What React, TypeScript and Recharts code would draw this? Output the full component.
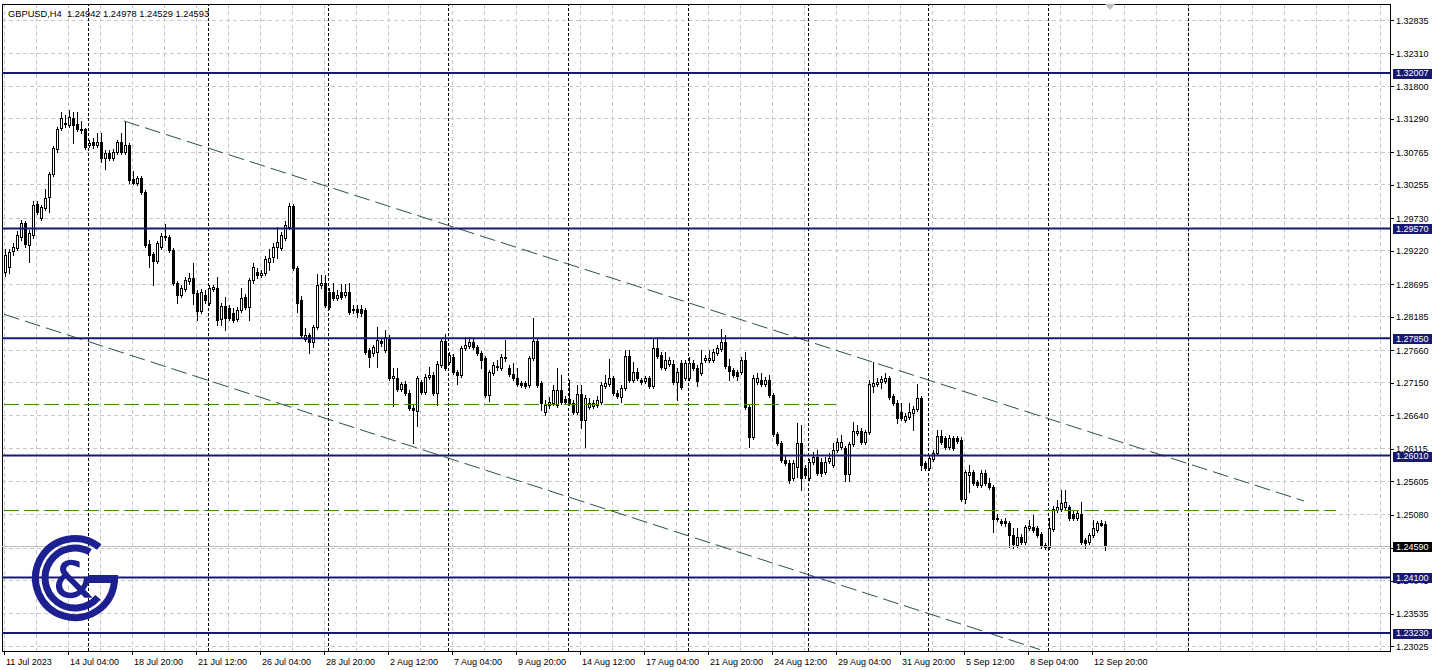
import React from 'react';
import { ComposedChart, Bar, XAxis, YAxis, CartesianGrid, ReferenceLine, ReferenceArea } from 'recharts';

const OPEN = [
  1.2889,1.2897,1.2922,1.2926,1.2944,1.2966,1.2931,1.2947,1.2995,1.2973,
  1.2989,1.3006,1.3042,1.3081,1.3115,1.3121,1.3119,1.3130,1.3121,1.3113,
  1.3113,1.3088,1.3093,1.3088,1.3093,1.3068,1.3075,1.3068,1.3077,1.3093,
  1.3077,1.3088,1.3034,1.3028,1.3036,1.3014,1.2933,1.2917,1.2906,1.2928,
  1.2944,1.2944,1.2923,1.2872,1.2853,1.2862,1.2875,1.2879,1.2856,1.2828,
  1.2853,1.2840,1.2862,1.2864,1.2815,1.2836,1.2832,1.2825,1.2815,1.2829,
  1.2850,1.2834,1.2876,1.2889,1.2884,1.2887,1.2904,1.2912,1.2928,1.2926,
  1.2942,1.2959,1.2992,1.2895,1.2845,1.2784,1.2790,1.2779,1.2803,1.2868,
  1.2872,1.2857,1.2857,1.2848,1.2857,1.2853,1.2857,1.2829,1.2831,1.2831,
  1.2829,1.2766,1.2762,1.2763,1.2781,1.2767,1.2785,1.2723,1.2723,1.2706,
  1.2713,1.2699,1.2676,1.2671,1.2716,1.2701,1.2724,1.2727,1.2699,1.2743,
  1.2781,1.2748,1.2756,1.2732,1.2727,1.2770,1.2773,1.2779,1.2771,1.2762,
  1.2754,1.2696,1.2730,1.2740,1.2738,1.2756,1.2738,1.2729,1.2723,1.2715,
  1.2715,1.2711,1.2754,1.2781,1.2715,1.2669,1.2680,1.2683,1.2680,1.2704,
  1.2690,1.2690,1.2683,1.2669,1.2698,1.2657,1.2677,1.2679,1.2680,1.2685,
  1.2710,1.2713,1.2723,1.2699,1.2693,1.2707,1.2757,1.2720,1.2732,1.2720,
  1.2718,1.2723,1.2710,1.2770,1.2759,1.2738,1.2745,1.2745,1.2716,1.2746,
  1.2723,1.2723,1.2746,1.2738,1.2730,1.2751,1.2751,1.2751,1.2762,1.2768,
  1.2779,1.2741,1.2735,1.2732,1.2732,1.2751,1.2677,1.2630,1.2716,1.2720,
  1.2713,1.2720,1.2696,1.2635,1.2621,1.2594,1.2589,1.2566,1.2583,1.2621,
  1.2582,1.2566,1.2591,1.2599,1.2591,1.2575,1.2593,1.2586,1.2610,1.2614,
  1.2613,1.2572,1.2619,1.2636,1.2640,1.2622,1.2638,1.2710,1.2713,1.2716,
  1.2718,1.2723,1.2694,1.2683,1.2669,1.2657,1.2662,1.2668,1.2674,1.2691,
  1.2589,1.2582,1.2596,1.2605,1.2632,1.2629,1.2615,1.2629,1.2629,1.2626,
  1.2533,1.2571,1.2575,1.2560,1.2555,1.2574,1.2558,1.2552,1.2503,1.2499,
  1.2499,1.2496,1.2477,1.2461,1.2474,1.2466,1.2488,1.2489,1.2488,1.2478,
  1.2461,1.2458,1.2486,1.2516,1.2517,1.2520,1.2520,1.2509,1.2503,1.2509,
  1.2469,1.2466,1.2477,1.2484,1.2496,1.24942,
];
const HIGH = [
  1.2925,1.2925,1.2934,1.2953,1.2970,1.2969,1.2955,1.3000,1.3000,1.2994,
  1.3019,1.3045,1.3086,1.3116,1.3140,1.3135,1.3143,1.3140,1.3140,1.3125,
  1.3115,1.3096,1.3099,1.3107,1.3107,1.3080,1.3080,1.3082,1.3096,1.3107,
  1.3126,1.3091,1.3047,1.3039,1.3039,1.3017,1.2939,1.2920,1.2937,1.2950,
  1.2964,1.2947,1.2926,1.2875,1.2868,1.2881,1.2887,1.2903,1.2861,1.2862,
  1.2861,1.2868,1.2868,1.2881,1.2840,1.2850,1.2837,1.2832,1.2834,1.2864,
  1.2854,1.2879,1.2903,1.2895,1.2892,1.2914,1.2925,1.2934,1.2959,1.2952,
  1.2969,1.2997,1.2995,1.2898,1.2851,1.2801,1.2793,1.2806,1.2886,1.2884,
  1.2884,1.2864,1.2872,1.2861,1.2870,1.2870,1.2872,1.2837,1.2837,1.2837,
  1.2832,1.2770,1.2774,1.2803,1.2785,1.2798,1.2790,1.2738,1.2738,1.2716,
  1.2718,1.2704,1.2682,1.2726,1.2720,1.2729,1.2740,1.2732,1.2749,1.2785,
  1.2792,1.2763,1.2760,1.2735,1.2773,1.2787,1.2787,1.2784,1.2774,1.2765,
  1.2757,1.2735,1.2748,1.2751,1.2760,1.2782,1.2743,1.2746,1.2738,1.2718,
  1.2718,1.2757,1.2817,1.2784,1.2718,1.2688,1.2693,1.2711,1.2738,1.2727,
  1.2695,1.2720,1.2688,1.2711,1.2711,1.2696,1.2691,1.2688,1.2695,1.2716,
  1.2727,1.2753,1.2726,1.2704,1.2711,1.2767,1.2767,1.2748,1.2738,1.2723,
  1.2726,1.2726,1.2784,1.2787,1.2763,1.2763,1.2756,1.2751,1.2738,1.2751,
  1.2751,1.2756,1.2751,1.2743,1.2767,1.2759,1.2767,1.2768,1.2774,1.2800,
  1.2790,1.2753,1.2738,1.2735,1.2756,1.2763,1.2680,1.2727,1.2730,1.2730,
  1.2724,1.2727,1.2699,1.2638,1.2624,1.2600,1.2594,1.2594,1.2652,1.2649,
  1.2587,1.2596,1.2607,1.2610,1.2597,1.2599,1.2605,1.2621,1.2629,1.2633,
  1.2616,1.2622,1.2654,1.2649,1.2644,1.2641,1.2720,1.2748,1.2723,1.2726,
  1.2730,1.2726,1.2698,1.2688,1.2683,1.2668,1.2683,1.2679,1.2713,1.2694,
  1.2593,1.2600,1.2610,1.2641,1.2641,1.2632,1.2633,1.2632,1.2632,1.2630,
  1.2578,1.2586,1.2578,1.2563,1.2578,1.2578,1.2566,1.2555,1.2509,1.2502,
  1.2503,1.2499,1.2488,1.2488,1.2478,1.2492,1.2500,1.2508,1.2491,1.2481,
  1.2464,1.2503,1.2522,1.2531,1.2547,1.2547,1.2524,1.2516,1.2516,1.2528,
  1.2472,1.2480,1.2500,1.2499,1.2500,1.24978,
];
const LOW = [
  1.2883,1.2887,1.2915,1.2923,1.2939,1.2928,1.2904,1.2942,1.2980,1.2970,
  1.2986,1.2983,1.3039,1.3077,1.3111,1.3116,1.3116,1.3091,1.3110,1.3107,
  1.3082,1.3085,1.3083,1.3085,1.3061,1.3050,1.3064,1.3064,1.3074,1.3074,
  1.3074,1.3028,1.3027,1.3025,1.3011,1.2928,1.2897,1.2868,1.2903,1.2925,
  1.2939,1.2920,1.2868,1.2840,1.2850,1.2859,1.2870,1.2839,1.2814,1.2825,
  1.2840,1.2837,1.2859,1.2806,1.2806,1.2798,1.2814,1.2811,1.2812,1.2826,
  1.2831,1.2814,1.2872,1.2879,1.2881,1.2884,1.2892,1.2904,1.2911,1.2923,
  1.2939,1.2956,1.2892,1.2826,1.2785,1.2781,1.2762,1.2771,1.2800,1.2864,
  1.2834,1.2831,1.2845,1.2845,1.2847,1.2850,1.2823,1.2825,1.2818,1.2820,
  1.2760,1.2740,1.2757,1.2740,1.2773,1.2763,1.2720,1.2679,1.2703,1.2703,
  1.2696,1.2672,1.2621,1.2648,1.2698,1.2698,1.2721,1.2696,1.2680,1.2740,
  1.2735,1.2745,1.2729,1.2714,1.2724,1.2767,1.2770,1.2768,1.2759,1.2738,
  1.2693,1.2687,1.2727,1.2735,1.2735,1.2749,1.2726,1.2720,1.2710,1.2709,
  1.2707,1.2709,1.2751,1.2709,1.2672,1.2665,1.2676,1.2680,1.2677,1.2682,
  1.2682,1.2680,1.2666,1.2666,1.2644,1.2615,1.2674,1.2676,1.2677,1.2682,
  1.2707,1.2710,1.2696,1.2691,1.2685,1.2704,1.2716,1.2716,1.2720,1.2713,
  1.2715,1.2707,1.2707,1.2754,1.2737,1.2735,1.2742,1.2713,1.2688,1.2706,
  1.2720,1.2720,1.2735,1.2710,1.2727,1.2748,1.2748,1.2748,1.2759,1.2765,
  1.2738,1.2720,1.2724,1.2720,1.2729,1.2674,1.2615,1.2627,1.2713,1.2710,
  1.2710,1.2693,1.2632,1.2618,1.2591,1.2586,1.2558,1.2563,1.2567,1.2547,
  1.2566,1.2563,1.2588,1.2571,1.2569,1.2572,1.2590,1.2583,1.2607,1.2611,
  1.2561,1.2561,1.2616,1.2633,1.2619,1.2619,1.2635,1.2701,1.2710,1.2707,
  1.2715,1.2690,1.2680,1.2652,1.2657,1.2654,1.2658,1.2641,1.2671,1.2578,
  1.2578,1.2578,1.2593,1.2602,1.2619,1.2611,1.2611,1.2610,1.2621,1.2530,
  1.2527,1.2544,1.2555,1.2552,1.2552,1.2555,1.2549,1.2481,1.2499,1.2493,
  1.2491,1.2458,1.2456,1.2458,1.2463,1.2463,1.2484,1.2481,1.2474,1.2456,
  1.2455,1.2455,1.2483,1.2513,1.2514,1.2517,1.2500,1.2500,1.2500,1.2463,
  1.2456,1.2463,1.2474,1.2481,1.2490,1.24529,
];
const CLOSE = [
  1.2915,1.2920,1.2928,1.2947,1.2966,1.2933,1.2950,1.2994,1.2983,1.2991,
  1.3005,1.3042,1.3083,1.3113,1.3130,1.3123,1.3132,1.3119,1.3113,1.3111,
  1.3085,1.3091,1.3088,1.3093,1.3068,1.3075,1.3068,1.3077,1.3093,1.3077,
  1.3088,1.3033,1.3028,1.3036,1.3014,1.2931,1.2915,1.2906,1.2934,1.2945,
  1.2945,1.2923,1.2872,1.2853,1.2864,1.2876,1.2879,1.2856,1.2828,1.2857,
  1.2845,1.2864,1.2865,1.2814,1.2836,1.2817,1.2817,1.2814,1.2829,1.2848,
  1.2834,1.2876,1.2897,1.2884,1.2887,1.2909,1.2911,1.2928,1.2936,1.2947,
  1.2962,1.2992,1.2895,1.2840,1.2790,1.2790,1.2779,1.2803,1.2868,1.2872,
  1.2837,1.2834,1.2848,1.2853,1.2850,1.2857,1.2826,1.2831,1.2826,1.2825,
  1.2763,1.2755,1.2771,1.2782,1.2778,1.2787,1.2723,1.2726,1.2706,1.2713,
  1.2699,1.2676,1.2672,1.2723,1.2701,1.2724,1.2727,1.2699,1.2745,1.2781,
  1.2738,1.2759,1.2732,1.2727,1.2770,1.2774,1.2779,1.2771,1.2762,1.2751,
  1.2696,1.2732,1.2743,1.2741,1.2756,1.2754,1.2729,1.2723,1.2713,1.2711,
  1.2710,1.2754,1.2781,1.2711,1.2683,1.2680,1.2685,1.2704,1.2704,1.2685,
  1.2685,1.2683,1.2669,1.2698,1.2657,1.2691,1.2683,1.2683,1.2688,1.2711,
  1.2715,1.2723,1.2699,1.2694,1.2707,1.2757,1.2720,1.2732,1.2723,1.2716,
  1.2723,1.2710,1.2770,1.2757,1.2740,1.2751,1.2751,1.2716,1.2732,1.2709,
  1.2746,1.2746,1.2738,1.2718,1.2746,1.2754,1.2754,1.2763,1.2770,1.2779,
  1.2741,1.2734,1.2727,1.2726,1.2751,1.2677,1.2630,1.2723,1.2723,1.2713,
  1.2720,1.2696,1.2635,1.2621,1.2594,1.2589,1.2563,1.2589,1.2621,1.2566,
  1.2571,1.2591,1.2599,1.2574,1.2574,1.2591,1.2597,1.2610,1.2622,1.2622,
  1.2572,1.2619,1.2640,1.2640,1.2622,1.2638,1.2713,1.2715,1.2716,1.2721,
  1.2723,1.2693,1.2683,1.2660,1.2660,1.2663,1.2669,1.2674,1.2691,1.2586,
  1.2582,1.2597,1.2605,1.2632,1.2622,1.2615,1.2629,1.2613,1.2624,1.2533,
  1.2575,1.2575,1.2558,1.2555,1.2574,1.2558,1.2552,1.2502,1.2502,1.2496,
  1.2496,1.2477,1.2463,1.2474,1.2466,1.2489,1.2491,1.2484,1.2477,1.2461,
  1.2458,1.2488,1.2517,1.2520,1.2527,1.2528,1.2503,1.2503,1.2511,1.2466,
  1.2464,1.2477,1.2488,1.2496,1.2493,1.24593,
];

const X_LABELS = [
  '11 Jul 2023', '14 Jul 04:00', '18 Jul 20:00', '21 Jul 12:00', '26 Jul 04:00', '28 Jul 20:00',
  '2 Aug 12:00', '7 Aug 04:00', '9 Aug 20:00', '14 Aug 12:00', '17 Aug 04:00', '21 Aug 20:00',
  '24 Aug 12:00', '29 Aug 04:00', '31 Aug 20:00', '5 Sep 12:00', '8 Sep 04:00', '12 Sep 20:00',
];
const LABEL_EVERY = 16;
const PRICE_TICKS = [
  1.32835, 1.3231, 1.318, 1.3129, 1.30765, 1.30255, 1.2973, 1.2922, 1.28695, 1.28185,
  1.2766, 1.2715, 1.2664, 1.26115, 1.25605, 1.2508, 1.2456, 1.24045, 1.23535, 1.23025,
];
const LEVELS = [1.32007, 1.2957, 1.2785, 1.2601, 1.241, 1.2323];
const CURRENT = 1.2459;
const GREEN_LEVELS = [
  { price: 1.26811, fromBar: 0, toBar: 208 },
  { price: 1.25149, fromBar: 0, toBar: 333 },
];
const WEEK_SEPARATORS = [21, 51, 81, 111, 141, 171, 201, 231, 261, 296];
const CHANNEL_UPPER = [{ bar: 30, price: 1.31255 }, { bar: 325, price: 1.25299 }];
const CHANNEL_LOWER = [{ bar: 0, price: 1.28225 }, { bar: 259, price: 1.22969 }];
const TITLE = 'GBPUSD,H4  1.24942 1.24978 1.24529 1.24593';
const TOTAL_SLOTS = 347;
const Y_MIN = 1.229474;
const Y_MAX = 1.330885;

const NAVY = '#191970';
const GREEN = '#3a8f00';
const FONT = '"Liberation Sans", Arial, sans-serif';

const DATA = Array.from({ length: TOTAL_SLOTS }, (_, k) =>
  k < OPEN.length
    ? { i: k, o: OPEN[k], h: HIGH[k], l: LOW[k], c: CLOSE[k], range: [LOW[k], HIGH[k]] }
    : { i: k, range: null }
);

const Candle = (props: any) => {
  const { x, y, width, height, payload } = props;
  if (!payload || payload.o == null || !isFinite(y) || !isFinite(height)) return null;
  const { o, c, h, l } = payload;
  const cx = Math.round(x + width / 2);
  const top = Math.min(y, y + height);
  const hgt = Math.abs(height);
  const py = (p: number) => (h === l ? top : top + ((h - p) / (h - l)) * hgt);
  const bull = c > o;
  const bTop = Math.round(py(Math.max(o, c)));
  const bBot = Math.round(py(Math.min(o, c)));
  const wTop = Math.round(top);
  const wBot = Math.round(top + hgt);
  return (
    <g shapeRendering="crispEdges">
      <line x1={cx + 0.5} x2={cx + 0.5} y1={wTop} y2={wBot + 1} stroke="#000" strokeWidth={1} />
      {bBot - bTop >= 1 ? (
        <rect x={cx - 0.5} y={bTop + 0.5} width={2} height={bBot - bTop} fill={bull ? '#fff' : '#000'} stroke="#000" strokeWidth={1} />
      ) : (
        <line x1={cx - 1} x2={cx + 2} y1={bTop + 0.5} y2={bTop + 0.5} stroke="#000" strokeWidth={1} />
      )}
    </g>
  );
};

const XTick = (props: any) => {
  const { x, y, payload } = props;
  const v = Number(payload.value);
  if (v % LABEL_EVERY !== 0) return null;
  const label = X_LABELS[v / LABEL_EVERY];
  if (!label) return null;
  return (
    <g>
      <line x1={Math.round(x) + 0.5} x2={Math.round(x) + 0.5} y1={y} y2={y + 4} stroke="#000" shapeRendering="crispEdges" />
      <text x={x + 2} y={y + 14} textAnchor="start" fontSize={9} fontFamily={FONT} fill="#000">{label}</text>
    </g>
  );
};

const YTick = (props: any) => {
  const { x, y, payload } = props;
  const v = Number(payload.value);
  const isLevel = LEVELS.includes(v);
  const isCur = v === CURRENT;
  const txt = v.toFixed(5);
  if (isLevel || isCur) {
    return (
      <g>
        <rect x={x + 3} y={Math.round(y) - 4.5} width={39} height={10} fill={isCur ? '#000' : NAVY} shapeRendering="crispEdges" />
        <text x={x + 6} y={y + 3.5} fontSize={9} fontFamily={FONT} fill="#fff">{txt}</text>
      </g>
    );
  }
  return (
    <g>
      <line x1={x} x2={x + 4} y1={Math.round(y) + 0.5} y2={Math.round(y) + 0.5} stroke="#000" shapeRendering="crispEdges" />
      <text x={x + 6} y={y + 3.5} fontSize={9} fontFamily={FONT} fill="#000">{txt}</text>
    </g>
  );
};

export default function App() {
  return (
    <div style={{ position: 'fixed', left: 0, top: 0, width: 1436, height: 670, background: '#fff', overflow: 'hidden' }}>
      <ComposedChart
        width={1436}
        height={670}
        data={DATA}
        margin={{ top: 4, right: 0, bottom: 0, left: 2 }}
        barCategoryGap={0}
        barGap={0}
      >
        <CartesianGrid stroke="#c8c8c8" strokeDasharray="4 3" shapeRendering="crispEdges" />
        <XAxis
          dataKey="i"
          type="category"
          interval={7}
          tick={<XTick />}
          tickLine={false}
          tickSize={0}
          tickMargin={0}
          height={19}
          axisLine={{ stroke: '#000', shapeRendering: 'crispEdges' }}
        />
        <YAxis
          orientation="right"
          type="number"
          domain={[Y_MIN, Y_MAX]}
          allowDataOverflow
          ticks={[...PRICE_TICKS, ...LEVELS, CURRENT]}
          interval={0}
          tick={<YTick />}
          tickLine={false}
          tickSize={0}
          tickMargin={0}
          width={46}
          axisLine={{ stroke: '#000', shapeRendering: 'crispEdges' }}
        />
        <ReferenceArea x1={0} x2={TOTAL_SLOTS - 1} y1={Y_MIN} y2={Y_MAX} fill="none" fillOpacity={0} stroke="#000" strokeWidth={1} shapeRendering="crispEdges" />
        {WEEK_SEPARATORS.map((b) => (
          <ReferenceLine key={'w' + b} x={b} stroke="#000" strokeDasharray="3 2" shapeRendering="crispEdges" />
        ))}
        <ReferenceLine y={CURRENT} stroke="#c0c0c0" strokeWidth={1} shapeRendering="crispEdges" />
        {GREEN_LEVELS.map((g, k) => (
          <ReferenceLine
            key={'g' + k}
            segment={[{ x: g.fromBar, y: g.price }, { x: g.toBar, y: g.price }]}
            stroke={GREEN}
            strokeOpacity={1}
            strokeWidth={1}
            strokeDasharray="15 5"
          />
        ))}
        <ReferenceLine
          segment={[{ x: CHANNEL_UPPER[0].bar, y: CHANNEL_UPPER[0].price }, { x: CHANNEL_UPPER[1].bar, y: CHANNEL_UPPER[1].price }]}
          stroke="#2f4f4f"
          strokeDasharray="16 6"
        />
        <ReferenceLine
          segment={[{ x: CHANNEL_LOWER[0].bar, y: CHANNEL_LOWER[0].price }, { x: CHANNEL_LOWER[1].bar, y: CHANNEL_LOWER[1].price }]}
          stroke="#2f4f4f"
          strokeDasharray="16 6"
        />
        {LEVELS.map((lv) => (
          <ReferenceLine key={'l' + lv} y={lv} stroke={NAVY} strokeWidth={2} />
        ))}
        <Bar dataKey="range" barSize={3} shape={<Candle />} isAnimationActive={false} />
      </ComposedChart>
      <svg width={1436} height={670} style={{ position: 'absolute', left: 0, top: 0, pointerEvents: 'none' }}>
        <text x={8} y={16.5} fontSize={9.3} fontFamily={FONT} fill="#000" style={{ whiteSpace: 'pre' }}>{TITLE}</text>
        <polygon points="1105,4 1115,4 1110,10" fill="#c0c0c0" />
        <g fill="none" stroke="#1d2090" strokeWidth={7}>
          <path d="M 99.3 546.9 A 39.5 39.5 0 1 0 114.3 582.1" />
          <path d="M 90 552 A 30 30 0 1 0 98 597.3" />
        </g>
        <rect x={88} y={575} width={30} height={8} fill="#1d2090" />
        <text x={73} y={597} textAnchor="middle" fontSize={50} fontFamily='"DejaVu Sans", sans-serif' fill="#1d2090" stroke="#1d2090" strokeWidth={1.5}>&amp;</text>
      </svg>
    </div>
  );
}
